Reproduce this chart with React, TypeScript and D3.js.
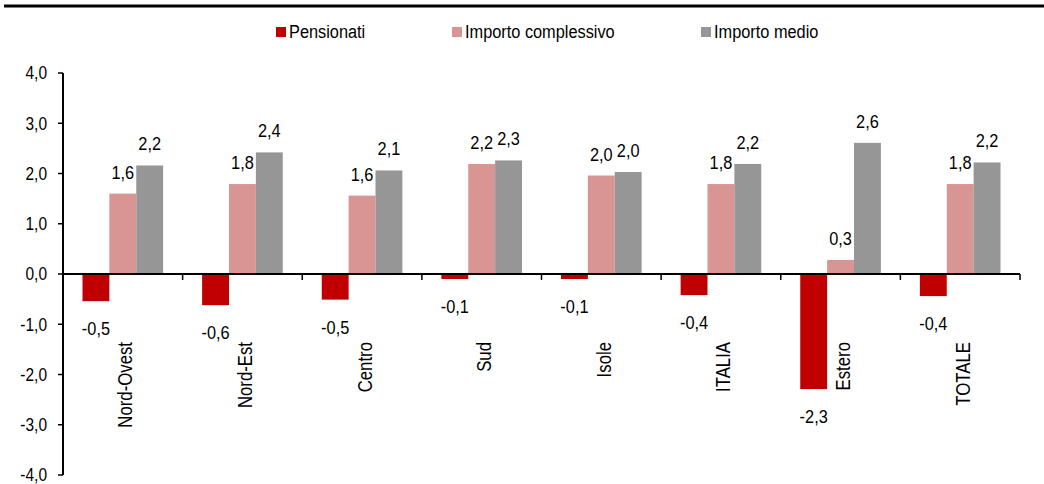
import React, { useEffect, useRef } from 'react';
import * as d3 from 'd3';

const categories = ['Nord-Ovest', 'Nord-Est', 'Centro', 'Sud', 'Isole', 'ITALIA', 'Estero', 'TOTALE'];
const seriesNames = ['Pensionati', 'Importo complessivo', 'Importo medio'];
const pensionati = [-0.54, -0.62, -0.51, -0.1, -0.1, -0.42, -2.29, -0.44];
const importoComplessivo = [1.6, 1.79, 1.56, 2.19, 1.96, 1.79, 0.28, 1.79];
const importoMedio = [2.16, 2.42, 2.06, 2.26, 2.03, 2.19, 2.61, 2.22];
const yTicks = [-4, -3, -2, -1, 0, 1, 2, 3, 4];
const colors = ['#C00000', '#D99594', '#969696'];

const W = 1044;
const H = 484;
const FONT = '"Liberation Sans", Arial, sans-serif';
const SX = 0.86; // the source font is a condensed Arial

const locale = d3.formatLocale({
  decimal: ',',
  thousands: '.',
  grouping: [3],
  currency: ['', '€'],
  minus: '-',
});
const fmt = locale.format('.1f');

const App = () => {
  const ref = useRef(null);

  useEffect(() => {
    const svg = d3.select(ref.current);
    svg.selectAll('*').remove();

    const left = 63;
    const right = 1020;
    const x0 = d3
      .scaleBand()
      .domain(categories)
      .range([left, right])
      .paddingInner(0.326)
      .paddingOuter(0.163);
    const x1 = d3.scaleBand().domain(seriesNames).range([0, x0.bandwidth()]);
    const y = d3.scaleLinear().domain([-4, 4]).range([475, 73]);
    const step = x0.step();

    const values = [pensionati, importoComplessivo, importoMedio];
    const rows = [];
    categories.forEach((c, i) => {
      seriesNames.forEach((s, j) => {
        rows.push({ cat: c, series: s, idx: j, v: values[j][i] });
      });
    });

    // top rule
    svg
      .append('line')
      .attr('x1', 4)
      .attr('x2', W)
      .attr('y1', 6)
      .attr('y2', 6)
      .attr('stroke', '#000')
      .attr('stroke-width', 3);

    // legend
    const legendX = [276, 452, 701];
    const legend = svg.append('g');
    seriesNames.forEach((s, j) => {
      legend
        .append('rect')
        .attr('x', legendX[j])
        .attr('y', 27)
        .attr('width', 10)
        .attr('height', 10)
        .attr('fill', colors[j]);
      legend
        .append('text')
        .attr('transform', `translate(${legendX[j] + 13},38) scale(${SX},1)`)
        .style('font-family', FONT)
        .style('font-size', '19px')
        .attr('fill', '#000')
        .text(s);
    });

    // bars
    svg
      .append('g')
      .selectAll('rect')
      .data(rows)
      .enter()
      .append('rect')
      .attr('x', (d) => x0(d.cat) + x1(d.series))
      .attr('width', x1.bandwidth())
      .attr('y', (d) => Math.min(y(d.v), y(0)))
      .attr('height', (d) => Math.abs(y(d.v) - y(0)))
      .attr('fill', (d) => colors[d.idx]);

    // data labels
    svg
      .append('g')
      .selectAll('text')
      .data(rows)
      .enter()
      .append('text')
      .attr('transform', (d) => {
        const cx = x0(d.cat) + x1(d.series) + x1.bandwidth() / 2;
        const ty = d.v < 0 ? y(d.v) + 34 : y(d.v) - 15;
        return `translate(${cx},${ty}) scale(${SX},1)`;
      })
      .attr('text-anchor', 'middle')
      .style('font-family', FONT)
      .style('font-size', '19px')
      .attr('fill', '#000')
      .text((d) => fmt(d.v));

    // y axis
    const yAxis = svg.append('g');
    yAxis
      .append('line')
      .attr('x1', left)
      .attr('x2', left)
      .attr('y1', y(4))
      .attr('y2', y(-4))
      .attr('stroke', '#000')
      .attr('stroke-width', 2);
    yAxis
      .selectAll('line.tick')
      .data(yTicks)
      .enter()
      .append('line')
      .attr('class', 'tick')
      .attr('x1', left - 5)
      .attr('x2', left)
      .attr('y1', (d) => y(d))
      .attr('y2', (d) => y(d))
      .attr('stroke', '#000')
      .attr('stroke-width', 1.5);
    yAxis
      .selectAll('text')
      .data(yTicks)
      .enter()
      .append('text')
      .attr('transform', (d) => `translate(47,${y(d)}) scale(${SX},1)`)
      .attr('dy', '0.35em')
      .attr('text-anchor', 'end')
      .style('font-family', FONT)
      .style('font-size', '18px')
      .attr('fill', '#000')
      .text((d) => fmt(d));

    // x axis
    const xAxis = svg.append('g');
    xAxis
      .append('line')
      .attr('x1', left)
      .attr('x2', right)
      .attr('y1', y(0))
      .attr('y2', y(0))
      .attr('stroke', '#000')
      .attr('stroke-width', 2);
    xAxis
      .selectAll('line.tick')
      .data(categories)
      .enter()
      .append('line')
      .attr('class', 'tick')
      .attr('x1', (d) => x0(d) - x0.paddingOuter() * step + step)
      .attr('x2', (d) => x0(d) - x0.paddingOuter() * step + step)
      .attr('y1', y(0))
      .attr('y2', y(0) + 6)
      .attr('stroke', '#000')
      .attr('stroke-width', 1.5);
    xAxis
      .selectAll('text')
      .data(categories)
      .enter()
      .append('text')
      .attr(
        'transform',
        (d) => `translate(${x0(d) + x0.bandwidth() / 2 + 9.5},342) rotate(-90) scale(${SX},1)`
      )
      .attr('text-anchor', 'end')
      .style('font-family', FONT)
      .style('font-size', '19.5px')
      .attr('fill', '#000')
      .text((d) => d);
  }, []);

  return (
    <svg
      ref={ref}
      width={W}
      height={H}
      style={{ position: 'absolute', left: 0, top: 0, background: '#fff', display: 'block' }}
    />
  );
};

export default App;
